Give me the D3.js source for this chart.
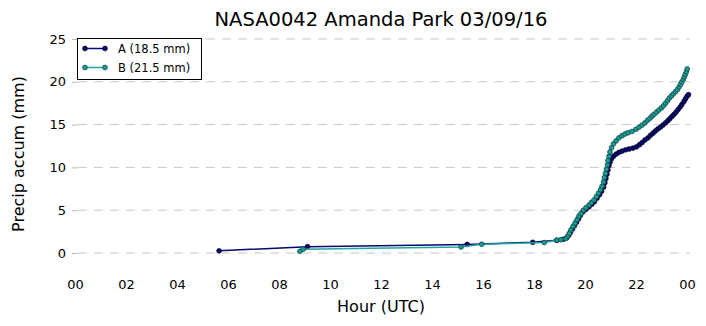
<!DOCTYPE html>
<html>
<head>
<meta charset="utf-8">
<script src="https://cdn.jsdelivr.net/npm/d3@7"></script>
<style>
  body { margin: 0; background: #fff; }
  svg { display: block; font-family: "DejaVu Sans", sans-serif; }
</style>
</head>
<body>
<svg id="chart" width="706" height="326"></svg>
<script>
// Gauge A: hour of day (UTC) and accumulated precipitation (mm)
const hoursA = [5.65, 9.12, 15.38, 17.95, 18.89, 19.14, 19.29, 19.37, 19.43, 19.51, 19.59, 19.67, 19.75, 19.82, 19.92, 20.04, 20.16, 20.27, 20.37, 20.47, 20.57, 20.65, 20.73, 20.78, 20.82, 20.86, 20.90, 20.94, 20.98, 21.04, 21.12, 21.22, 21.33, 21.45, 21.59, 21.73, 21.88, 22.02, 22.14, 22.24, 22.35, 22.47, 22.57, 22.67, 22.76, 22.86, 22.96, 23.06, 23.16, 23.25, 23.33, 23.41, 23.49, 23.57, 23.65, 23.73, 23.80, 23.88, 23.94, 24.00, 24.06];
const accumA = [0.25, 0.74, 1.00, 1.25, 1.48, 1.60, 1.80, 2.10, 2.40, 2.80, 3.20, 3.60, 4.00, 4.40, 4.80, 5.10, 5.40, 5.70, 6.00, 6.40, 6.80, 7.20, 7.70, 8.20, 8.70, 9.20, 9.70, 10.20, 10.60, 11.00, 11.30, 11.55, 11.75, 11.90, 12.05, 12.15, 12.25, 12.40, 12.65, 12.90, 13.20, 13.45, 13.75, 14.00, 14.25, 14.50, 14.70, 14.95, 15.20, 15.45, 15.70, 15.95, 16.20, 16.45, 16.75, 17.05, 17.35, 17.70, 18.00, 18.30, 18.50];

// Gauge B
const hoursB = [8.82, 8.95, 15.14, 15.95, 18.40, 18.90, 19.06, 19.25, 19.33, 19.39, 19.45, 19.53, 19.61, 19.69, 19.76, 19.84, 19.94, 20.04, 20.16, 20.25, 20.35, 20.45, 20.53, 20.61, 20.67, 20.73, 20.76, 20.80, 20.84, 20.88, 20.90, 20.94, 20.98, 21.04, 21.12, 21.22, 21.33, 21.45, 21.57, 21.69, 21.84, 22.00, 22.12, 22.24, 22.35, 22.45, 22.55, 22.63, 22.71, 22.80, 22.90, 23.00, 23.08, 23.16, 23.24, 23.31, 23.39, 23.47, 23.55, 23.63, 23.69, 23.75, 23.80, 23.86, 23.90, 23.94, 23.98, 24.01];
const accumB = [0.20, 0.45, 0.70, 1.02, 1.22, 1.50, 1.55, 1.70, 2.00, 2.30, 2.70, 3.10, 3.50, 3.90, 4.30, 4.60, 5.00, 5.30, 5.60, 5.90, 6.20, 6.60, 7.00, 7.40, 7.80, 8.30, 8.80, 9.30, 9.80, 10.30, 10.80, 11.30, 11.80, 12.30, 12.75, 13.10, 13.45, 13.70, 13.90, 14.05, 14.20, 14.45, 14.70, 14.95, 15.20, 15.50, 15.75, 16.00, 16.20, 16.45, 16.70, 16.95, 17.20, 17.50, 17.80, 18.10, 18.35, 18.60, 18.85, 19.10, 19.40, 19.70, 20.00, 20.30, 20.60, 20.90, 21.20, 21.50];

const seriesNames = ["A (18.5 mm)", "B (21.5 mm)"];
const hourTicks = [0, 2, 4, 6, 8, 10, 12, 14, 16, 18, 20, 22, 24];
const hourLabels = ["00", "02", "04", "06", "08", "10", "12", "14", "16", "18", "20", "22", "00"];
const accumTicks = [0, 5, 10, 15, 20, 25];

const svg = d3.select("#chart");
const x = d3.scaleLinear().domain([0, 24]).range([75, 687]);
const y = d3.scaleLinear().domain([0, 25]).range([253, 39]);

const styles = [
  { line: "#08086e", fill: "#0a0a66", edge: "#00002a" },
  { line: "#22a6a0", fill: "#1b9a94", edge: "#083f3d" }
];

// Horizontal dashed grid
svg.append("g").selectAll("line").data(accumTicks).join("line")
  .attr("x1", 78).attr("x2", 690)
  .attr("y1", d => y(d)).attr("y2", d => y(d))
  .attr("stroke", "#c8c8c8").attr("stroke-width", 1)
  .attr("stroke-dasharray", "9,7");

// Y axis (ticks only, no spine)
const yAxis = svg.append("g").attr("transform", "translate(78,0)")
  .call(d3.axisLeft(y).tickValues(accumTicks).tickSize(6).tickPadding(6));
yAxis.select(".domain").remove();
yAxis.selectAll(".tick line").attr("stroke", "#bbbbbb");
yAxis.selectAll("text").attr("font-size", 13).attr("fill", "#000")
  .attr("font-family", "DejaVu Sans, sans-serif");

// X axis (labels only)
const xAxis = svg.append("g").attr("transform", "translate(0,275)")
  .call(d3.axisBottom(x).tickValues(hourTicks).tickSize(0).tickPadding(5)
    .tickFormat((d, i) => hourLabels[i]));
xAxis.select(".domain").remove();
xAxis.selectAll("text").attr("font-size", 13).attr("fill", "#000")
  .attr("font-family", "DejaVu Sans, sans-serif");

// Series
const seriesData = [
  hoursA.map((h, i) => [h, accumA[i]]),
  hoursB.map((h, i) => [h, accumB[i]])
];
const line = d3.line().x(d => x(d[0])).y(d => y(d[1]));

seriesData.forEach((pts, k) => {
  const g = svg.append("g");
  g.append("path").datum(pts).attr("d", line)
    .attr("fill", "none").attr("stroke", styles[k].line).attr("stroke-width", 1.5);
  g.selectAll("circle").data(pts).join("circle")
    .attr("cx", d => x(d[0])).attr("cy", d => y(d[1])).attr("r", 2.4)
    .attr("fill", styles[k].fill).attr("stroke", styles[k].edge).attr("stroke-width", 0.7);
});

// Legend
const lg = svg.append("g");
lg.append("rect").attr("x", 77.5).attr("y", 38.5).attr("width", 124).attr("height", 41)
  .attr("fill", "#fff").attr("stroke", "#000").attr("stroke-width", 1);
seriesNames.forEach((name, k) => {
  const cy = 48.5 + k * 19;
  lg.append("line").attr("x1", 85).attr("x2", 105).attr("y1", cy).attr("y2", cy)
    .attr("stroke", styles[k].line).attr("stroke-width", 1.5);
  [85, 105].forEach(cx => lg.append("circle").attr("cx", cx).attr("cy", cy).attr("r", 2.4)
    .attr("fill", styles[k].fill).attr("stroke", styles[k].edge).attr("stroke-width", 0.7));
  lg.append("text").attr("x", 118).attr("y", cy).attr("dy", "0.36em")
    .attr("font-size", 11.5).attr("fill", "#000").text(name);
});

// Titles
svg.append("text").attr("x", 381).attr("y", 26).attr("text-anchor", "middle")
  .attr("font-size", 19.5).attr("fill", "#000").text("NASA0042 Amanda Park 03/09/16");
svg.append("text").attr("x", 381).attr("y", 312).attr("text-anchor", "middle")
  .attr("font-size", 16).attr("fill", "#000").text("Hour (UTC)");
svg.append("text").attr("transform", "translate(24,154) rotate(-90)").attr("text-anchor", "middle")
  .attr("font-size", 16).attr("fill", "#000").text("Precip accum (mm)");
</script>
</body>
</html>
